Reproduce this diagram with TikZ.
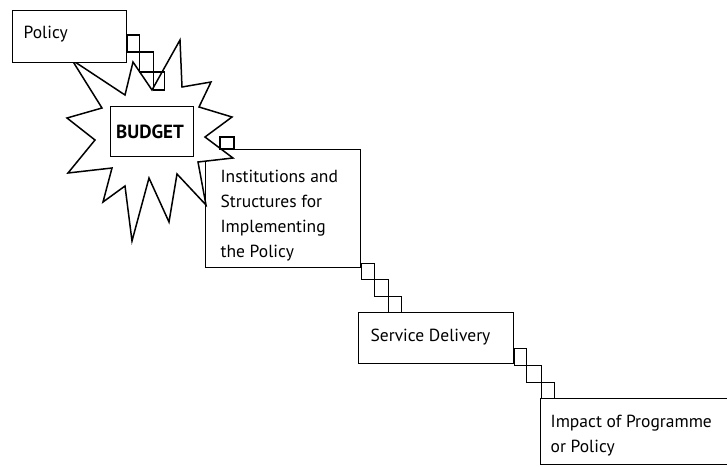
\documentclass[tikz,border=0pt]{standalone}
\usepackage{fontspec}
\setmainfont{PT Sans}
\begin{document}
\begin{tikzpicture}[x=1pt,y=-1pt,line width=1.3pt,line join=miter,
  box/.style={draw=black,fill=white,rectangle,inner sep=0pt,anchor=north west},
  lbl/.style={anchor=base west,inner sep=0pt,align=left,font=\fontsize{17.5}{24.7}\selectfont},
  sq/.style={draw=black,line width=1.2pt}]
\useasboundingbox (0,0) rectangle (727,466);
\clip (0,0) rectangle (727,466);
\fill[white] (0,0) rectangle (727,466);
% Institutions box (partly hidden by the star)
\node[box,minimum width=155pt,minimum height=118pt] (inst) at (205,149) {};
% starburst
\draw[fill=white,line width=1.5pt] (72,60) -- (125,95) -- (133,62) -- (152,90) -- (180,40) -- (182,87)
  -- (211,82) -- (199,107) -- (232,117) -- (205,137) -- (233,158) -- (198,162)
  -- (206,205) -- (177,174) -- (169,222) -- (149,178) -- (132,241) -- (125,186)
  -- (103,202) -- (112,168) -- (68,173) -- (95,140) -- (67,118) -- (102,108) -- cycle;
% Policy box
\node[box,minimum width=114pt,minimum height=52pt] (policy) at (12,10) {};
\node[lbl] (policyT) at (23,38) {Policy};
% steps Policy -> Budget
\draw[sq] (policy.north east) ++(0,25) rectangle ++(12,17)
          ++(0,0) rectangle ++(14,20)
          ++(0,0) rectangle ++(11,18);
% Budget box
\node[box,minimum width=83pt,minimum height=50pt] (budget) at (110,106) {};
\node[anchor=base,inner sep=0pt,font=\fontsize{19}{21}\selectfont\bfseries] (budgetT) at (150,138) {BUDGET};
% steps Budget -> Institutions
\draw[sq] (inst.north west) ++(15,-12) rectangle ++(14,12);
% Institutions text (base = last line)
\node[lbl] (instT) at (220,257) {Institutions and\\Structures for\\Implementing\\the Policy};
% steps Institutions -> Service
\draw[sq] (inst.south east) ++(0,-5) rectangle ++(13,16)
          ++(0,0) rectangle ++(14,17)
          ++(0,0) rectangle ++(13,17);
% Service box
\node[box,minimum width=155pt,minimum height=51pt] (serv) at (358,312) {};
\node[lbl] (servT) at (370,341) {Service Delivery};
% steps Service -> Impact
\draw[sq] (serv.south east) ++(0,-16) rectangle ++(12,17)
          ++(0,0) rectangle ++(15,17)
          ++(0,0) rectangle ++(13,16);
% Impact box
\node[box,minimum width=200pt,minimum height=66pt] (impact) at (540,398) {};
\node[lbl] (impactT) at (550,452) {Impact of Programme\\or Policy};
\end{tikzpicture}
\end{document}
